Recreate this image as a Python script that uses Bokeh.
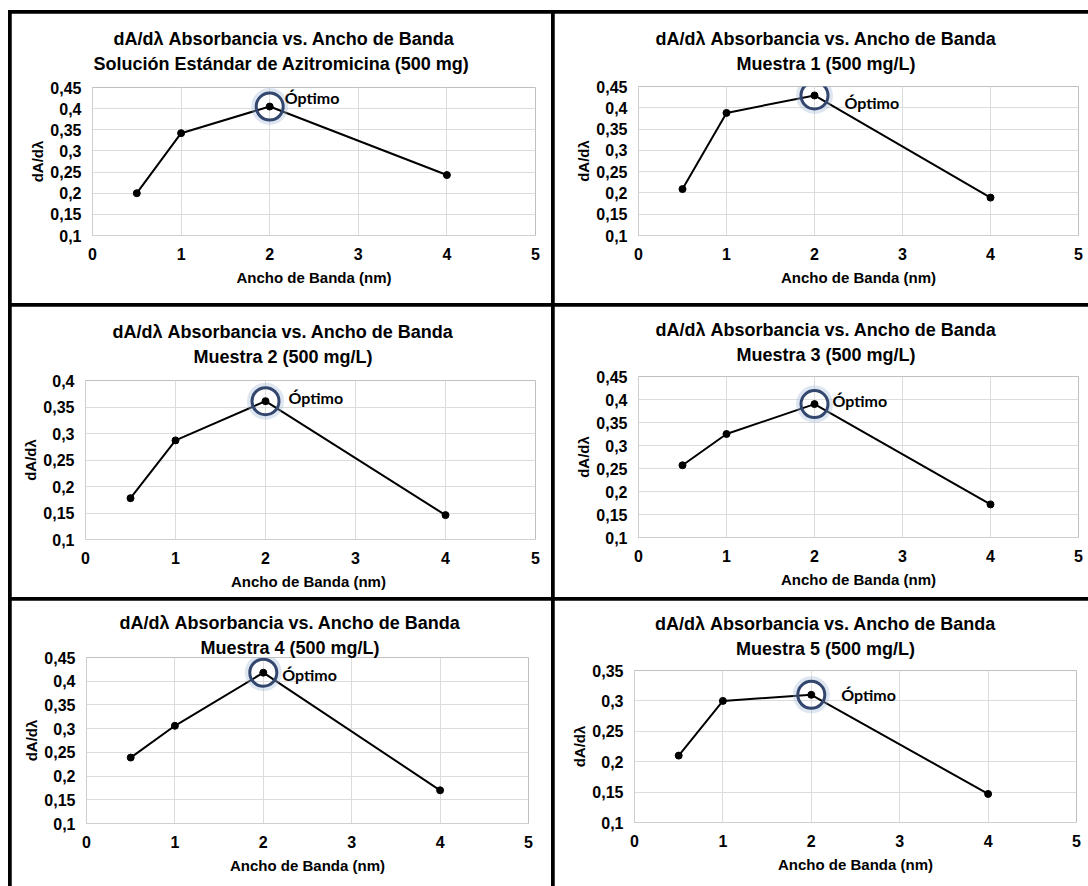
from bokeh.plotting import figure
from bokeh.layouts import row, column
from bokeh.models import Range1d, FixedTicker, Title, Spacer
from bokeh.core.properties import value
from bokeh.embed import file_html
from bokeh.resources import INLINE

# Band widths (nm) and first-derivative absorbance for each solution
bandwidth = [0.5, 1, 2, 4]
estandar = [0.200, 0.342, 0.405, 0.243]
muestra_1 = [0.209, 0.388, 0.429, 0.189]
muestra_2 = [0.178, 0.287, 0.361, 0.146]
muestra_3 = [0.257, 0.325, 0.390, 0.172]
muestra_4 = [0.239, 0.306, 0.418, 0.170]
muestra_5 = [0.210, 0.300, 0.310, 0.147]

titles = [
    ("dA/d\u03bb Absorbancia vs. Ancho de Banda", "Soluci\u00f3n Est\u00e1ndar de  Azitromicina (500 mg)"),
    ("dA/d\u03bb Absorbancia vs. Ancho de Banda", "Muestra 1 (500 mg/L)"),
    ("dA/d\u03bb Absorbancia vs. Ancho de Banda", "Muestra 2 (500 mg/L)"),
    ("dA/d\u03bb Absorbancia vs. Ancho de Banda", "Muestra 3 (500 mg/L)"),
    ("dA/d\u03bb Absorbancia vs. Ancho de Banda", "Muestra 4 (500 mg/L)"),
    ("dA/d\u03bb Absorbancia vs. Ancho de Banda", "Muestra 5 (500 mg/L)"),
]
x_title_std = "Ancho de Banda (nm)"
x_title_m2 = "Ancho de Banda  (nm)"
y_title = "dA/d\u03bb"
optimo_label = "\u00d3ptimo"

x_ticks = [0, 1, 2, 3, 4, 5]
x_tick_labels = ["0", "1", "2", "3", "4", "5"]
y_ticks_045 = [0.1, 0.15, 0.2, 0.25, 0.3, 0.35, 0.4, 0.45]
y_labels_045 = ["0,1", "0,15", "0,2", "0,25", "0,3", "0,35", "0,4", "0,45"]
y_ticks_040 = [0.1, 0.15, 0.2, 0.25, 0.3, 0.35, 0.4]
y_labels_040 = ["0,1", "0,15", "0,2", "0,25", "0,3", "0,35", "0,4"]
y_ticks_035 = [0.1, 0.15, 0.2, 0.25, 0.3, 0.35]
y_labels_035 = ["0,1", "0,15", "0,2", "0,25", "0,3", "0,35"]

FONT = "Liberation Sans"
GRID = "#dcdcdc"
NBSP = "\u00a0"

title_kw = dict(align="center", text_font=FONT, text_font_size="18px",
                text_font_style="bold", text_color="black", text_line_height=1.25)
if "text_align" in Title.properties():
    title_kw["text_align"] = "center"


def heading(pair, pad):
    # trailing no-break spaces pull the centred heading towards the panel centre
    return "\n".join(line + NBSP * pad for line in pair)


def panel(series, title_pair, x_title, yt, yl, w, h, borders, head, note_off):
    left, right, top, bottom = borders
    pad, standoff = head
    p = figure(width=w, height=h, title=None, toolbar_location=None,
               output_backend="svg",
               x_range=Range1d(0, 5), y_range=Range1d(yt[0], yt[-1]),
               min_border_left=left, min_border_right=right,
               min_border_top=top, min_border_bottom=bottom,
               background_fill_color="white", border_fill_color="white",
               outline_line_color=None)
    p.add_layout(Title(text=heading(title_pair, pad), standoff=standoff, **title_kw),
                 "above")

    p.xaxis.ticker = FixedTicker(ticks=x_ticks)
    p.xaxis.major_label_overrides = dict(zip(x_ticks, x_tick_labels))
    p.yaxis.ticker = FixedTicker(ticks=yt)
    p.yaxis.major_label_overrides = dict(zip(yt, yl))
    for ax in (p.xaxis[0], p.yaxis[0]):
        ax.axis_line_color = "#cfcfcf"
        ax.major_tick_line_color = None
        ax.minor_tick_line_color = None
        ax.major_label_text_font = FONT
        ax.major_label_text_font_style = "bold"
        ax.major_label_text_font_size = "16px"
        ax.major_label_text_color = "black"
        ax.axis_label_text_font = FONT
        ax.axis_label_text_font_style = "bold"
        ax.axis_label_text_font_size = "15px"
        ax.axis_label_text_color = "black"
    p.xaxis.axis_label = x_title
    p.yaxis.axis_label = y_title
    p.xaxis.major_label_standoff = 6
    p.xaxis.axis_label_standoff = 6
    p.yaxis.major_label_standoff = 5
    p.yaxis.axis_label_standoff = 1
    p.xgrid.grid_line_color = GRID
    p.ygrid.grid_line_color = GRID

    p.line(bandwidth, series, line_color="black", line_width=2)
    p.scatter(bandwidth, series, size=7, color="black")

    # highlight the maximum
    k = series.index(max(series))
    bx, by = [bandwidth[k]], [series[k]]
    p.scatter(bx, by, size=33, fill_color=None, line_color="#9fb6d6",
              line_width=4, line_alpha=0.35)
    p.scatter(bx, by, size=27, fill_color=None, line_color="#33466e", line_width=3)
    p.text(bx, by, text=[optimo_label], x_offset=note_off[0], y_offset=note_off[1],
           text_font=value("Lato"), text_font_style="bold", text_font_size="16px",
           text_baseline="middle", text_align="left", text_color="black")
    return p


p1 = panel(estandar, titles[0], x_title_std, y_ticks_045, y_labels_045, 540, 290,
           (81, 16, 74, 68), (12, 27), (15, -9))
p2 = panel(muestra_1, titles[1], x_title_std, y_ticks_045, y_labels_045, 534, 290,
           (84, 10, 73, 68), (13, 26), (30, 7))
p3 = panel(muestra_2, titles[2], x_title_m2, y_ticks_040, y_labels_040, 540, 291,
           (74, 16, 74, 58), (11, 27), (23, -4))
p4 = panel(muestra_3, titles[3], x_title_std, y_ticks_045, y_labels_045, 534, 291,
           (84, 10, 70, 60), (13, 23), (18, -4))
p5 = panel(muestra_4, titles[4], x_title_std, y_ticks_045, y_labels_045, 540, 286,
           (75, 23, 57, 63), (7, 0), (19, 2))
p6 = panel(muestra_5, titles[5], x_title_std, y_ticks_035, y_labels_035, 534, 286,
           (80, 12, 70, 64), (12, 23), (30, 0))


def cell(p):
    # each chart sits in its own box so neighbouring plot areas stay independent
    return column(p, width=p.width, height=p.height)


# black frame lines come from the layout background showing through the gaps
row_kw = dict(spacing=3)
layout = column(
    Spacer(width=1080, height=0),
    row(Spacer(width=0, height=290), cell(p1), cell(p2), **row_kw),
    row(Spacer(width=0, height=291), cell(p3), cell(p4), **row_kw),
    row(Spacer(width=0, height=286), cell(p5), cell(p6), **row_kw),
    spacing=3,
    margin=(10, 0, 0, 8),
    styles={"background-color": "black"},
)

open("out.html", "w").write(file_html(layout, INLINE))
